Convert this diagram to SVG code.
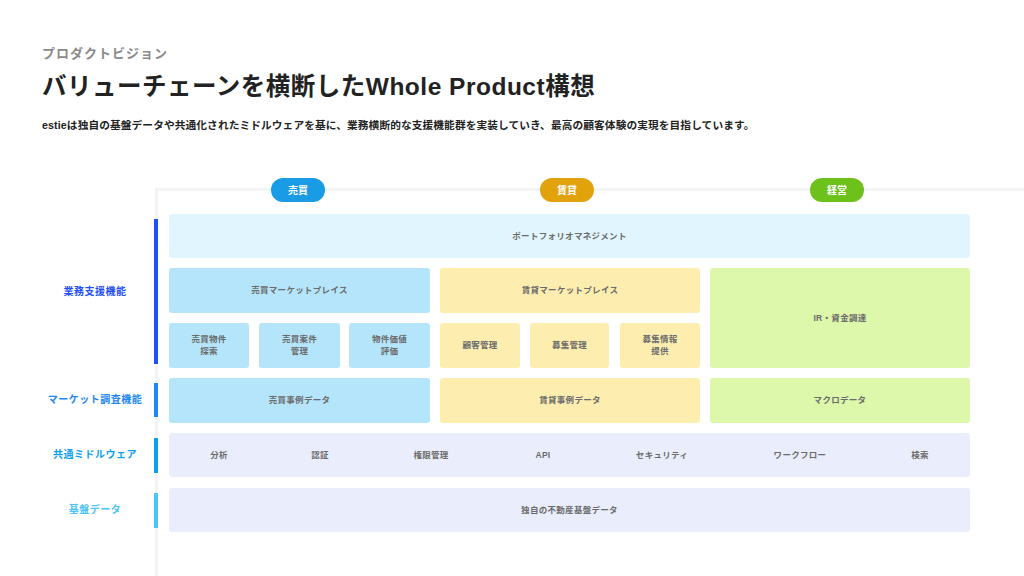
<svg xmlns="http://www.w3.org/2000/svg" width="1024" height="576" viewBox="0 0 1024 576">
<style>
text{font-family:"Liberation Sans","Noto Sans CJK JP",sans-serif}
.sub{font-size:13px;font-weight:700;fill:#8a8a8a;letter-spacing:1px}
.title{font-size:24.5px;font-weight:700;fill:#222;letter-spacing:0.5px}
.desc{font-size:10.7px;font-weight:700;fill:#222;letter-spacing:0.1px}
.pill{font-size:10px;font-weight:700;fill:#fff;text-anchor:middle;dominant-baseline:central}
.lbl{font-size:10px;font-weight:700;text-anchor:middle;dominant-baseline:central;letter-spacing:0.5px}
.t{font-size:8.5px;font-weight:700;fill:#6b6b6b;text-anchor:middle;dominant-baseline:central;letter-spacing:0.3px}
.pf{fill:#e0f5fd}
.bb{fill:#b5e5fa}
.rt{fill:#fdeeb0}
.mg{fill:#ddf7ab}
.mw{fill:#eaeefc}
</style>
<rect width="1024" height="576" fill="#fff"/>
<text class="sub" x="42" y="58">プロダクトビジョン</text>
<text class="title" x="42" y="95">バリューチェーンを横断したWhole Product構想</text>
<text class="desc" x="42" y="129">estieは独自の基盤データや共通化されたミドルウェアを基に、業務横断的な支援機能群を実装していき、最高の顧客体験の実現を目指しています。</text>

<rect x="156.5" y="189.5" width="900" height="420" fill="#fff" stroke="#f2f3f5" stroke-width="3"/>

<g id="pills">
<g id="pill-baibai"><rect x="271" y="178" width="54" height="24" rx="12" fill="#1a9be6"/><text class="pill" x="298" y="190">売買</text></g>
<g id="pill-chintai"><rect x="540" y="178" width="54" height="24" rx="12" fill="#e2a20c"/><text class="pill" x="567" y="190">賃貸</text></g>
<g id="pill-keiei"><rect x="810" y="178" width="54" height="24" rx="12" fill="#6cc11a"/><text class="pill" x="837" y="190">経営</text></g>
</g>

<g id="labels">
<g id="lbl-gyomu"><rect x="154" y="219" width="4" height="145" fill="#1f4ff5"/><text class="lbl" x="95" y="291.5" fill="#1f4ff5">業務支援機能</text></g>
<g id="lbl-market"><rect x="154" y="383" width="4" height="34" fill="#1e88f0"/><text class="lbl" x="95" y="399.5" fill="#1e88f0">マーケット調査機能</text></g>
<g id="lbl-mw"><rect x="154" y="438" width="4" height="35" fill="#0ba0ee"/><text class="lbl" x="95" y="454.5" fill="#0ba0ee">共通ミドルウェア</text></g>
<g id="lbl-base"><rect x="154" y="493" width="4" height="35" fill="#4cc4f5"/><text class="lbl" x="95" y="509.5" fill="#4cc4f5">基盤データ</text></g>
</g>

<g id="n-portfolio"><rect class="pf" x="169" y="214" width="801" height="44" rx="3"/><text class="t" x="569.5" y="235.5">ポートフォリオマネジメント</text></g>

<g id="n-bb-mp"><rect class="bb" x="169" y="268" width="261" height="45" rx="3"/><text class="t" x="299.5" y="290">売買マーケットプレイス</text></g>
<g id="n-rt-mp"><rect class="rt" x="440" y="268" width="260" height="45" rx="3"/><text class="t" x="570" y="290">賃貸マーケットプレイス</text></g>
<g id="n-ir"><rect class="mg" x="710" y="268" width="260" height="100" rx="3"/><text class="t" x="840" y="318">IR・資金調達</text></g>

<g id="n-bb-search"><rect class="bb" x="169" y="323" width="80" height="45" rx="3"/><text class="t" x="209" y="339">売買物件</text><text class="t" x="209" y="351">探索</text></g>
<g id="n-bb-deal"><rect class="bb" x="259" y="323" width="81" height="45" rx="3"/><text class="t" x="299.5" y="339">売買案件</text><text class="t" x="299.5" y="351">管理</text></g>
<g id="n-bb-value"><rect class="bb" x="349" y="323" width="81" height="45" rx="3"/><text class="t" x="389.5" y="339">物件価値</text><text class="t" x="389.5" y="351">評価</text></g>

<g id="n-rt-cust"><rect class="rt" x="440" y="323" width="80" height="45" rx="3"/><text class="t" x="480" y="345">顧客管理</text></g>
<g id="n-rt-recruit"><rect class="rt" x="530" y="323" width="79" height="45" rx="3"/><text class="t" x="569.5" y="345">募集管理</text></g>
<g id="n-rt-info"><rect class="rt" x="620" y="323" width="80" height="45" rx="3"/><text class="t" x="660" y="339">募集情報</text><text class="t" x="660" y="351">提供</text></g>

<g id="n-bb-case"><rect class="bb" x="169" y="378" width="261" height="45" rx="3"/><text class="t" x="299.5" y="400">売買事例データ</text></g>
<g id="n-rt-case"><rect class="rt" x="440" y="378" width="260" height="45" rx="3"/><text class="t" x="570" y="400">賃貸事例データ</text></g>
<g id="n-macro"><rect class="mg" x="710" y="378" width="260" height="45" rx="3"/><text class="t" x="840" y="400">マクロデータ</text></g>

<g id="n-middleware"><rect class="mw" x="169" y="433" width="801" height="44" rx="3"/>
<text class="t" x="219" y="455">分析</text>
<text class="t" x="320" y="455">認証</text>
<text class="t" x="431" y="455">権限管理</text>
<text class="t" x="543" y="455">API</text>
<text class="t" x="662" y="455">セキュリティ</text>
<text class="t" x="800" y="455">ワークフロー</text>
<text class="t" x="920" y="455">検索</text>
</g>

<g id="n-base"><rect class="mw" x="169" y="488" width="801" height="44" rx="3"/><text class="t" x="569.5" y="510">独自の不動産基盤データ</text></g>

<g id="connectors"></g>
</svg>
